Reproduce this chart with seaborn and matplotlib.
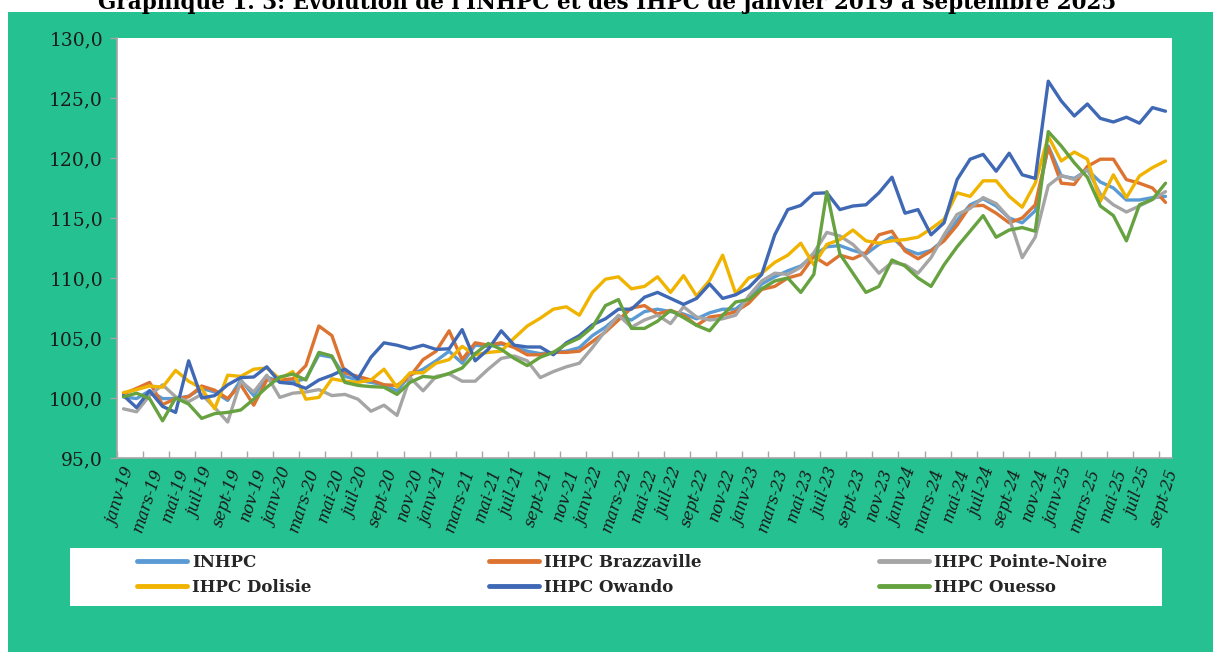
import matplotlib
matplotlib.use("Agg")
import matplotlib.pyplot as plt
import numpy as np
import pandas as pd
import seaborn as sns
from matplotlib.patches import Rectangle
from matplotlib.font_manager import FontProperties

# ---------------- data ----------------
month_abbr = ["janv", "févr", "mars", "avr", "mai", "juin",
              "juil", "août", "sept", "oct", "nov", "déc"]
years = ["19", "20", "21", "22", "23", "24", "25"]
periods = [f"{m}-{y}" for y in years for m in month_abbr][:81]

series_names = ["INHPC", "IHPC Brazzaville", "IHPC Pointe-Noire",
                "IHPC Dolisie", "IHPC Owando", "IHPC Ouesso"]

inhpc = [100.1, 99.95, 100.6, 99.95, 99.95, 100.15, 100.8, 100.5, 99.8, 101.5,
         100.2, 101.75, 101.35, 101.35, 101.6, 103.6, 103.4, 101.8, 101.5, 101.3,
         101.1, 100.6, 101.9, 102.4, 103.1, 103.9, 102.9, 104.4, 104.3, 104.5,
         104.3, 103.9, 103.7, 103.8, 103.9, 104.2, 105.2, 105.9, 106.8, 106.5,
         107.2, 107.4, 107.2, 107.0, 106.6, 107.1, 107.4, 107.4, 108.3, 109.5,
         110.1, 110.6, 111.0, 111.9, 112.6, 112.7, 112.3, 112.0, 112.8, 113.4,
         112.4, 112.0, 112.3, 113.2, 114.8, 116.1, 116.6, 116.0, 115.0, 114.6,
         115.6, 121.0, 118.5, 118.3, 119.0, 118.0, 117.5, 116.5, 116.5, 116.7,
         116.8]

brazzaville = [100.35, 100.8, 101.3, 99.45, 99.95, 100.1, 101.0, 100.65, 99.95, 101.1,
               99.4, 101.5, 101.5, 101.6, 102.7, 106.0, 105.2, 102.1, 101.8, 101.5,
               101.1, 101.05, 101.8, 103.2, 103.9, 105.6, 103.2, 104.6, 104.4, 104.6,
               104.2, 103.6, 103.6, 103.8, 103.8, 103.9, 104.7, 105.5, 106.5, 107.5,
               107.7, 107.0, 107.3, 106.9, 106.05, 106.75, 106.9, 107.2, 107.9, 109.05,
               109.3, 110.0, 110.3, 111.8, 111.1, 111.9, 111.6, 112.1, 113.6, 113.9,
               112.25, 111.6, 112.25, 113.1, 114.4, 116.0, 116.05, 115.4, 114.6, 115.0,
               116.1, 120.9, 117.9, 117.8, 119.3, 119.9, 119.9, 118.2, 117.9, 117.5,
               116.3]

pointe_noire = [99.1, 98.85, 100.2, 101.1, 100.1, 99.7, 100.3, 99.2, 98.0, 101.4,
                100.5, 101.9, 100.05, 100.4, 100.5, 100.7, 100.2, 100.3, 99.9, 98.9,
                99.4, 98.55, 101.7, 100.6, 101.8, 102.0, 101.4, 101.4, 102.4, 103.3,
                103.5, 103.1, 101.7, 102.2, 102.6, 102.9, 104.2, 105.6, 106.9, 105.9,
                106.5, 106.9, 106.2, 107.6, 106.75, 106.5, 106.6, 106.9, 108.5, 109.75,
                110.4, 110.3, 110.9, 112.1, 113.8, 113.5, 112.8, 111.7, 110.4, 111.3,
                111.1, 110.4, 111.7, 113.6, 115.3, 115.8, 116.7, 116.2, 115.0, 111.7,
                113.4, 117.7, 118.55, 118.2, 119.05, 117.0, 116.1, 115.5, 116.0, 116.55,
                117.2]

dolisie = [100.45, 100.7, 101.0, 100.9, 102.3, 101.4, 100.8, 99.1, 101.9, 101.8,
           102.4, 102.5, 101.6, 102.2, 99.9, 100.05, 101.6, 101.4, 101.3, 101.5,
           102.4, 100.9, 102.1, 102.1, 102.9, 103.2, 104.3, 103.6, 103.8, 103.9,
           105.0, 106.0, 106.65, 107.4, 107.6, 106.9, 108.8, 109.9, 110.1, 109.1,
           109.3, 110.1, 108.8, 110.2, 108.5, 109.8, 111.9, 108.7, 110.0, 110.4,
           111.3, 111.9, 112.9, 111.1, 112.8, 113.2, 114.0, 113.1, 112.9, 113.1,
           113.2, 113.4, 114.1, 114.9, 117.1, 116.8, 118.1, 118.1, 116.8, 115.9,
           117.9, 121.8, 119.75, 120.5, 119.9, 116.4, 118.6, 116.7, 118.5, 119.2,
           119.75]

owando = [100.2, 99.2, 100.6, 99.3, 98.8, 103.1, 100.0, 100.2, 101.1, 101.7,
          101.75, 102.6, 101.3, 101.2, 100.8, 101.5, 101.9, 102.4, 101.6, 103.4,
          104.6, 104.4, 104.1, 104.4, 104.05, 104.1, 105.7, 103.1, 104.05, 105.6,
          104.4, 104.25, 104.25, 103.6, 104.6, 105.2, 106.1, 106.6, 107.4, 107.4,
          108.4, 108.8, 108.3, 107.8, 108.3, 109.5, 108.3, 108.6, 109.2, 110.3,
          113.6, 115.7, 116.05, 117.05, 117.1, 115.7, 116.0, 116.1, 117.1, 118.4,
          115.4, 115.7, 113.6, 114.6, 118.2, 119.9, 120.3, 118.9, 120.4, 118.6,
          118.3, 126.4, 124.75, 123.5, 124.5, 123.3, 123.0, 123.4, 122.9, 124.2,
          123.9]

ouesso = [100.1, 100.4, 99.95, 98.1, 100.0, 99.5, 98.3, 98.7, 98.8, 99.0,
          99.9, 100.9, 101.75, 102.0, 101.5, 103.8, 103.5, 101.3, 101.05, 100.95,
          100.9, 100.3, 101.3, 101.8, 101.7, 102.05, 102.5, 103.7, 104.55, 104.05,
          103.3, 102.7, 103.4, 103.8, 104.5, 105.0, 105.9, 107.7, 108.2, 105.8,
          105.8, 106.4, 107.3, 106.7, 106.05, 105.6, 106.9, 108.0, 108.2, 109.1,
          109.75, 110.0, 108.8, 110.3, 117.2, 112.0, 110.4, 108.8, 109.3, 111.5,
          111.0, 110.0, 109.3, 111.1, 112.6, 113.9, 115.2, 113.4, 114.0, 114.2,
          113.9, 122.2, 121.0, 119.6, 118.4, 116.0, 115.2, 113.1, 116.1, 116.55,
          117.9]

y_ticks = [95, 100, 105, 110, 115, 120, 125, 130]
y_tick_labels = ["95,0", "100,0", "105,0", "110,0", "115,0", "120,0", "125,0", "130,0"]

title = "Graphique 1. 3: Évolution de l'INHPC et des IHPC de janvier 2019 à septembre 2025"

colors = ["#5B9BD5", "#DD7330", "#A5A5A5", "#F0B400", "#3F68B5", "#66A23F"]
bg_green = "#25C190"

# ---------------- frame ----------------
df = pd.DataFrame({
    "idx": np.tile(np.arange(len(periods)), len(series_names)),
    "period": periods * len(series_names),
    "series": np.repeat(series_names, len(periods)),
    "value": inhpc + brazzaville + pointe_noire + dolisie + owando + ouesso,
})

sns.set_theme(style="white")
plt.rcParams["font.family"] = ["DejaVu Serif", "DejaVu Sans"]
plt.rcParams["lines.solid_joinstyle"] = "round"
plt.rcParams["lines.solid_capstyle"] = "round"

W, H = 1215, 655
fig = plt.figure(figsize=(W / 100, H / 100), dpi=100)
fig.patch.set_facecolor("white")

fig.add_artist(Rectangle((8 / W, 3 / H), 1205 / W, 640 / H,
                         transform=fig.transFigure, facecolor=bg_green,
                         edgecolor="none", zorder=0))
fig.add_artist(Rectangle((70 / W, 1 - 606 / H), 1092 / W, 58 / H,
                         transform=fig.transFigure, facecolor="white",
                         edgecolor="none", zorder=1))

ax = fig.add_axes([117 / W, 1 - 458 / H, 1055 / W, 420 / H])
ax.set_facecolor("white")
ax.set_zorder(2)

sns.lineplot(data=df, x="idx", y="value", hue="series", hue_order=series_names,
             palette=colors, linewidth=2.4, sort=False, estimator=None, ax=ax)

ax.set_xlim(-0.5, len(periods) - 0.5)
ax.set_ylim(95, 130)
ax.set_xlabel("")
ax.set_ylabel("")

ax.set_yticks(y_ticks)
ax.set_yticklabels(y_tick_labels, fontsize=13.5, color="#1a1a1a")
ax.tick_params(axis="y", which="major", direction="out", length=5,
               width=1, color="#A6A6A6", pad=5, left=True)

major_x = list(range(0, len(periods), 2))
ax.set_xticks(major_x)
ax.set_xticklabels([periods[i] for i in major_x], rotation=72, ha="right",
                   va="top", rotation_mode="anchor", fontsize=11.5,
                   fontstyle="italic", color="#1a1a1a")
ax.set_xticks(np.arange(-0.5, len(periods), 2), minor=True)
ax.tick_params(axis="x", which="major", length=0, pad=6)
ax.tick_params(axis="x", which="minor", direction="in", length=5,
               width=1, color="#A6A6A6", bottom=True)

for s in ["top", "right"]:
    ax.spines[s].set_visible(False)
for s in ["left", "bottom"]:
    ax.spines[s].set_color("#A6A6A6")
    ax.spines[s].set_linewidth(1.2)

handles, labels = ax.get_legend_handles_labels()
ax.get_legend().remove()
order = [0, 3, 1, 4, 2, 5]
handles = [handles[i] for i in order]
labels = [labels[i] for i in order]
for h in handles:
    h.set_linewidth(3.5)
leg = fig.legend(handles, labels, ncol=3, loc="upper left",
                 bbox_to_anchor=(137 / W, 1 - 604 / H, 970 / W, 50 / H),
                 mode="expand", frameon=False, borderaxespad=0, borderpad=0,
                 prop=FontProperties(family="DejaVu Serif", weight="bold", size=12),
                 handlelength=3.0, handletextpad=0.3, labelspacing=0.45)
leg.set_zorder(3)

fig.text(0.5, 1 - 9 / H, title, ha="center", va="baseline", fontsize=15.5,
         fontweight="bold", color="black")

fig.savefig("out.png", dpi=100)
